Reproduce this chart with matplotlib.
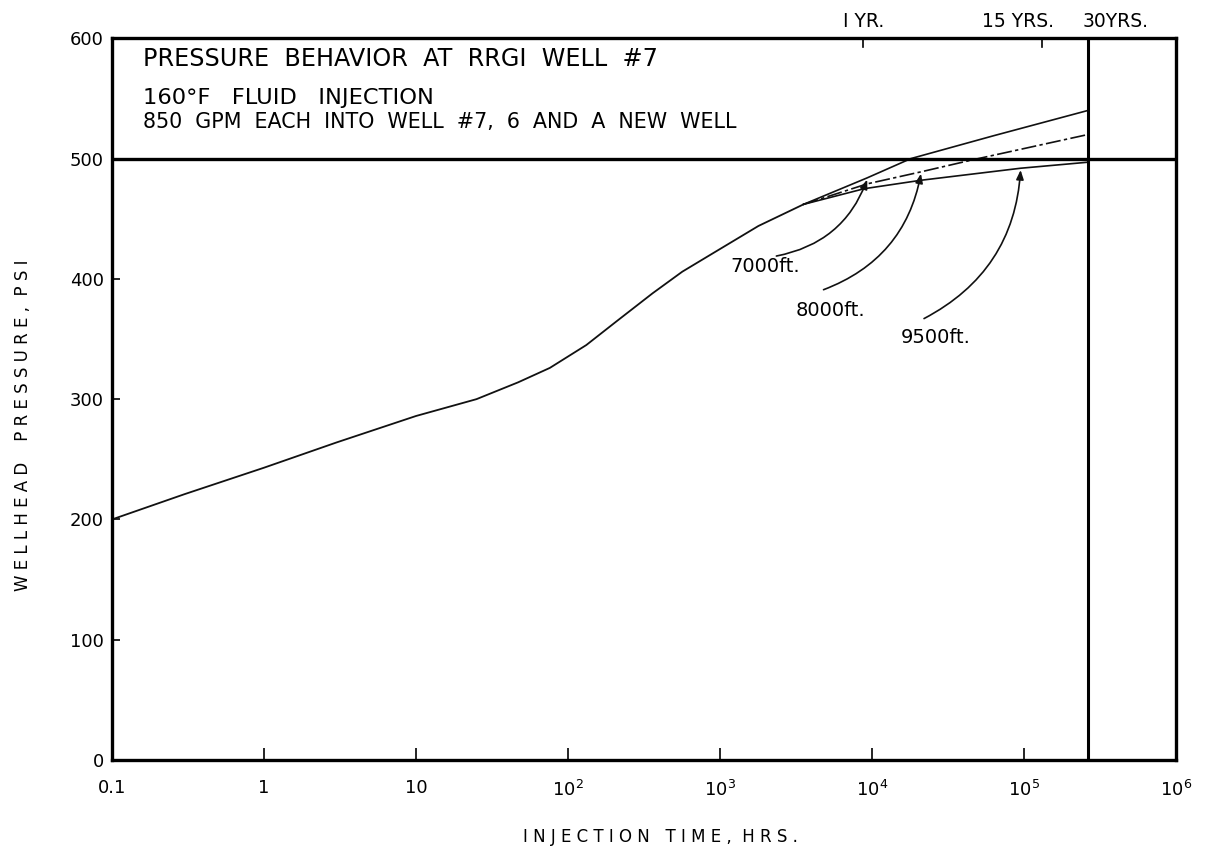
import numpy as np
import matplotlib
matplotlib.use("Agg")
import matplotlib.pyplot as plt

# ---------------- data ----------------
time_main = [0.1, 0.3, 1, 3, 10, 25, 47, 76, 132, 210, 360, 565, 975, 1790, 3550]
p_main = [200, 221, 243, 264, 286, 300, 314, 326, 345, 365, 388, 406, 424, 444, 462]

time_7000 = [3550, 9300, 18000, 63000, 262800]
p_7000 = [462, 484, 500, 519, 540]
time_8000 = [3550, 9300, 21000, 46000, 262800]
p_8000 = [462, 479, 489, 499, 520]
time_9500 = [3550, 8900, 21000, 95000, 262800]
p_9500 = [462, 475, 482, 492, 497]

depth_labels = ["7000ft.", "8000ft.", "9500ft."]
arrow_tip_t = [9300, 21000, 95000]

x_ticks = [0.1, 1, 10, 1e2, 1e3, 1e4, 1e5, 1e6]
x_ticklabels = ["0.1", "1", "10", "10$^2$", "10$^3$", "10$^4$", "10$^5$", "10$^6$"]
y_ticks = [0, 100, 200, 300, 400, 500, 600]

year_hours = [8760, 131400, 262800]
year_labels = ["I YR.", "15 YRS.", "30YRS."]
limit_pressure = 500

title_lines = ["PRESSURE  BEHAVIOR  AT  RRGI  WELL  #7",
               "160°F   FLUID   INJECTION",
               "850  GPM  EACH  INTO  WELL  #7,  6  AND  A  NEW  WELL"]

# ---------------- figure ----------------
plt.rcParams['font.family'] = ['DejaVu Sans']
fig = plt.figure(figsize=(12.08, 8.52), dpi=100)
ax = fig.add_axes([0.0927, 0.108, 0.8808, 0.847])
ax.set_xscale('log')
ax.set_xlim(0.1, 1e6)
ax.set_ylim(0, 600)

for s in ax.spines.values():
    s.set_linewidth(2.4)
    s.set_color('black')

ink = '#111111'
ax.plot(time_main, p_main, color=ink, lw=1.3)
ax.plot(time_7000, p_7000, color=ink, lw=1.2)
ax.plot(time_8000, p_8000, color=ink, lw=1.2, linestyle=(0, (9, 2, 2, 2)))
ax.plot(time_9500, p_9500, color=ink, lw=1.2)

ax.axhline(limit_pressure, color='black', lw=2.4)
ax.axvline(year_hours[2], color='black', lw=2.2)

# ticks
ax.set_xticks(x_ticks)
ax.set_xticklabels(x_ticklabels)
ax.xaxis.set_minor_locator(matplotlib.ticker.NullLocator())
ax.set_yticks(y_ticks)
ax.set_yticklabels([str(v) for v in y_ticks])
ax.tick_params(axis='x', direction='in', length=9, width=1.2, labelsize=13, pad=14)
ax.tick_params(axis='y', direction='in', length=6, width=1.2, labelsize=13, pad=6)

# year ticks at top
for t in year_hours[:2]:
    ax.plot([t, t], [600, 593], color='black', lw=1.2, clip_on=False)
year_offsets = [0, -17, 20]
for t, lab, off in zip(year_hours, year_labels, year_offsets):
    ax.annotate(lab, xy=(t, 600), xytext=(off, 5), textcoords='offset points',
                ha='center', va='bottom', fontsize=13.5)

# title block
ax.text(0.029, 0.972, title_lines[0], transform=ax.transAxes, fontsize=17.2,
        ha='left', va='center')
ax.text(0.029, 0.918, title_lines[1], transform=ax.transAxes, fontsize=16.2,
        ha='left', va='center')
ax.text(0.029, 0.884, title_lines[2], transform=ax.transAxes, fontsize=14.9,
        ha='left', va='center')

# depth annotations
curves_t = [time_7000, time_8000, time_9500]
curves_p = [p_7000, p_8000, p_9500]
text_pos = [(1175, 410), (3160, 374), (15500, 351)]
arrow_start = [(2350, 419), (4800, 391), (22000, 367)]
for lab, tt, ct, cp, tp, st in zip(depth_labels, arrow_tip_t, curves_t, curves_p,
                                   text_pos, arrow_start):
    tip_p = np.interp(np.log10(tt), np.log10(ct), cp)
    ax.annotate("", xy=(tt, tip_p - 1.5), xytext=st,
                arrowprops=dict(arrowstyle='-|>,head_length=0.55,head_width=0.22',
                                color=ink, lw=1.2,
                                connectionstyle='arc3,rad=0.28',
                                shrinkA=0, shrinkB=0))
    ax.text(tp[0], tp[1], lab, fontsize=14, ha='left', va='center')

ax.set_xlabel("I N J E C T I O N   T I M E ,  H R S .", fontsize=12)
ax.xaxis.set_label_coords(0.515, -0.094)
ax.set_ylabel("W E L L H E A D    P R E S S U R E ,  P S I", fontsize=12)
ax.yaxis.set_label_coords(-0.075, 0.464)

fig.savefig("out.png", dpi=100)
